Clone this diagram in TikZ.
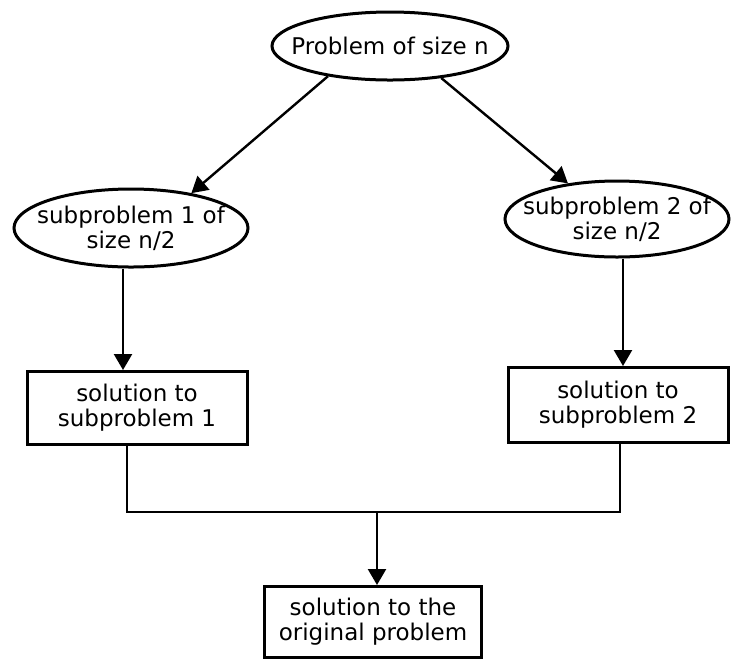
\documentclass[tikz,border=0pt]{standalone}
\usepackage{fontspec}
\setmainfont{DejaVu Sans}
\usetikzlibrary{shapes.geometric,arrows.meta}

\begin{document}
\begin{tikzpicture}[x=0.5pt,y=-0.5pt,
  every node/.style={font=\fontsize{11.5}{12.5}\selectfont,align=center},
  prob/.style={draw,ellipse,line width=1.5pt,inner sep=0pt},
  sol/.style={draw,rectangle,line width=1.5pt,inner sep=0pt},
  arr/.style={line width=1.2pt,-{Triangle[length=8pt,width=9pt]}},
  link/.style={line width=1.4pt}]
\useasboundingbox (0,0) rectangle (735,661);
\node[prob,minimum width=118pt,minimum height=34pt,label={center:Problem of size n}] (whole) at (390,46) {};
\node[prob,minimum width=117pt,minimum height=39pt,label={center:subproblem 1 of\\size n/2}] (lsub) at (131,228) {};
\node[prob,minimum width=112pt,minimum height=38pt,label={center:subproblem 2 of\\size n/2}] (rsub) at (617,219) {};
\node[sol,minimum width=110pt,minimum height=36.5pt] (lsol) at (137,408) {solution to\\subproblem 1};
\node[sol,minimum width=110pt,minimum height=37.5pt] (rsol) at (618,405) {solution to\\subproblem 2};
\node[sol,minimum width=108.5pt,minimum height=35.5pt] (final) at (373,622) {solution to the\\original problem};
\coordinate (join) at (377,512);

\draw[arr] (whole.206) -- (lsub.30);
\draw[arr] (whole.328) -- (rsub.144);
\draw[arr] ([xshift=-4pt]lsub.south) -- ([xshift=-4pt]lsub.south |- lsol.north);
\draw[arr] ([xshift=3pt]rsub.south) -- ([xshift=3pt]rsub.south |- rsol.north);
\draw[link] ([xshift=-5pt]lsol.south) |- (join) -| ([xshift=1pt]rsol.south);
\draw[arr] (join) -- (join |- final.north);
\end{tikzpicture}
\end{document}
